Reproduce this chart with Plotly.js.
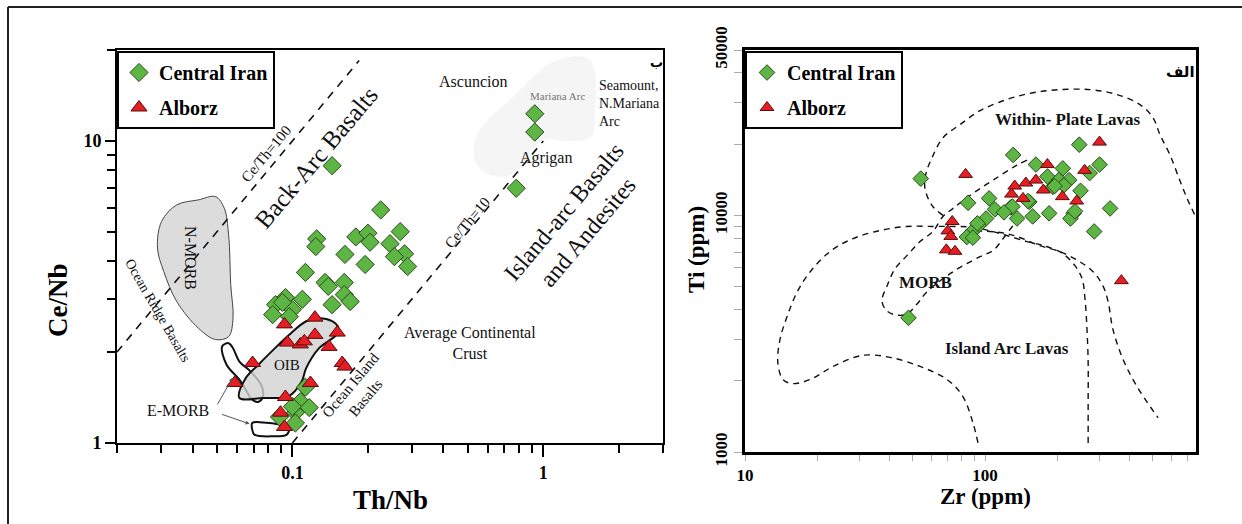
<!DOCTYPE html>
<html><head><meta charset="utf-8">
<script src="https://cdn.plot.ly/plotly-3.0.1.min.js"></script>
<style>html,body{margin:0;padding:0;background:#fff}#chart{width:1242px;height:524px}</style>
</head><body><div id="chart"></div>
<script>
// ===== Left diagram: Ce/Nb vs Th/Nb =====
const ciThNb = [0.144,0.925,0.925,0.78,0.225,0.125,0.124,0.179,0.20,0.204,0.269,0.245,0.280,0.255,0.288,0.162,0.195,0.1127,0.135,0.139,0.161,0.161,0.170,0.144,0.1096,0.0938,0.0857,0.100,0.0834,0.0973,0.0913,0.1127,0.1076,0.1167,0.1028,0.0888,0.1028,0.100];
const ciCeNb = [8.28,12.3,10.7,6.97,5.91,4.74,4.47,4.81,4.95,4.62,5.01,4.57,4.23,4.14,3.84,4.21,3.90,3.67,3.40,3.30,3.40,3.10,2.94,2.87,2.99,3.03,2.87,2.77,2.66,2.62,2.92,1.53,1.37,1.31,1.26,1.22,1.165,1.32];
const alThNb = [0.093,0.123,0.123,0.151,0.0956,0.1076,0.1116,0.140,0.0694,0.158,0.162,0.0589,0.0938,0.093,0.118,0.0897];
const alCeNb = [2.47,2.60,2.28,2.32,2.15,2.12,2.17,2.08,1.84,1.84,1.79,1.58,1.42,1.13,1.58,1.26];

// field outlines (Th/Nb, Ce/Nb)
const nmorbThNb = [0.0494,0.0535,0.0557,0.0568,0.058,0.0557,0.0494,0.0422,0.0346,0.0307,0.029,0.0301,0.0346,0.0422,0.0494];
const nmorbCeNb = [6.54,5.99,4.89,3.34,2.59,2.25,2.20,2.40,2.94,3.70,4.42,5.41,6.14,6.38,6.54];
const oibThNb = [0.0615,0.0764,0.0969,0.109,0.1135,0.1278,0.1497,0.1527,0.144,0.1278,0.1135,0.0969,0.0827,0.0734,0.0652,0.0615];
const oibCeNb = [1.41,1.41,1.43,1.60,1.77,2.06,2.28,2.40,2.53,2.59,2.53,2.28,2.01,1.82,1.64,1.41];
const emorbAThNb = [0.0525,0.0557,0.058,0.0615,0.0679,0.075,0.0764,0.0734,0.0692,0.0652,0.0615,0.0546,0.0525];
const emorbACeNb = [2.09,2.14,2.06,1.86,1.73,1.56,1.43,1.37,1.39,1.50,1.62,1.82,2.09];
const emorbBThNb = [0.0692,0.0764,0.0895,0.0969,0.095,0.0827,0.0706,0.0692,0.0692];
const emorbBCeNb = [1.165,1.17,1.15,1.12,1.066,1.052,1.066,1.107,1.165];
const marianaThNb = [0.532,0.542,0.622,0.746,0.896,1.057,1.29,1.52,1.61,1.61,1.55,1.23,1.03,0.896,0.818,0.713,0.594,0.532];
const marianaCeNb = [8.71,10.4,12.1,13.8,16.1,18.0,19.0,18.7,16.7,12.8,10.3,10.0,10.15,9.40,8.20,7.65,7.77,8.71];
// constant-ratio lines: Ce/Nb = ratio * Th/Nb
const ceTh100Range = [0.02, 0.1845];
const ceTh10Range = [0.1, 1.0];

const leftXTicks = [0.1, 1], leftXTickText = ['0.1', '1'];
const leftXMinor = [0.02,0.03,0.04,0.05,0.06,0.07,0.08,0.09,0.2,0.3,0.4,0.5,0.6,0.7,0.8,0.9,2,3];
const leftYTicks = [1, 10], leftYTickText = ['1', '10'];
const leftYMinor = [2,3,4,5,6,7,8,9,20];

// ===== Right diagram: Ti vs Zr =====
const ciZr = [54,131,247,163,211,300,273,182,203,224,192,213,250,195,104,85,153,110,128,332,136,158,185,234,227,101,94,88,84,89,285,48,130,151,237,93,120];
const ciTi = [14300,18000,19900,16400,15800,16400,15100,14600,14100,14100,13200,13400,12700,13300,11800,11300,11400,10600,10800,10700,9700,9900,10200,10200,9700,9700,9060,8500,8100,8050,8550,3690,10900,11500,10400,9250,10300];
const alZr = [300,83,182,260,133,148,163,129,175,210,241,144,73,70,72,69,75,370];
const alTi = [20400,14900,16400,15500,13300,13700,14100,12300,12800,12000,11500,11800,9420,8600,8150,7150,7050,5300];

const wplZr = [66.8,60.1,56.2,56.8,60.1,66.8,78.7,95.3,123.5,158.5,205,274,355,442,501,536,590,649,695,750];
const wplTi = [10000,11030,13030,15090,17500,21300,24200,27700,30900,33000,34000,34000,32400,29400,25900,21900,18000,14000,11800,10000];
const iabZr = [93.5,89.1,80.9,69.5,53.6,40.2,31.0,23.3,18.7,15.8,14.4,13.7,14.0,15.0,16.5,18.7,22.6,28.2,36.5,47.3,60.7,75.0,90.8,115.5,149.6,181,211,237,254,261,266,269,269,269];
const iabTi = [1092,1328,1714,2025,2300,2512,2562,2300,2025,1946,2025,2392,2997,3753,4750,5777,7030,7980,8630,8980,8980,8980,8890,8380,7750,7380,6890,6130,5390,4430,3304,2392,1617,1071];
const morbZr = [149.6,136,108,89.1,73.6,66.8,60.7,53.6,47.3,42.2,39.1,37.2,39.1,43.0,47.3,52.1,57.3,73.6,95.3,108,119,131,140];
const morbTi = [17140,16320,14090,12400,10710,9900,8550,7750,6760,5950,5037,4350,3940,3790,3830,4220,4750,5780,6690,7100,7980,9060,9710];
const morbEdgeZr = [82.5,115.5,136,169,205,244,282,310,326,341,376,430,526];
const morbEdgeTi = [8630,8470,8140,7450,7030,6440,5777,5037,4305,3304,2463,1890,1396];

const rightXTicks = [10, 100], rightXTickText = ['10', '100'];
const rightXMinor = [20,30,40,50,60,70,80,90,200,300,400,500,600,700];
const rightYTicks = [1000, 10000, 50000], rightYTickText = ['1000', '10000', '50000'];
const rightYMinor = [2000,3000,4000,5000,6000,7000,8000,9000,20000,30000,40000];

// ===== styling =====
const SERIF = 'Liberation Serif';
const W = 1242, H = 524;
const px = v => v / W, py = v => 1 - v / H;
const greenMarker = s => ({symbol:'diamond', size:s, color:'#5db543', line:{color:'#2a4a1c', width:1}});
const redMarker = s => ({symbol:'triangle-up', size:s, color:'#e41e22', line:{color:'#5a0c0c', width:1}});
const dashL = {color:'#111', width:1.6, dash:'8px,7px'};
const dashR = {color:'#111', width:1.4, dash:'6px,5px'};

const traces = [
  {x:marianaThNb, y:marianaCeNb, mode:'lines', fill:'toself', fillcolor:'#f5f5f5', line:{width:0, color:'rgba(0,0,0,0)', shape:'spline'}, showlegend:false, hoverinfo:'skip', xaxis:'x', yaxis:'y'},
  {x:nmorbThNb, y:nmorbCeNb, mode:'lines', fill:'toself', fillcolor:'#dcdcdc', line:{width:1, color:'#444', shape:'spline'}, showlegend:false, hoverinfo:'skip', xaxis:'x', yaxis:'y'},
  {x:emorbAThNb, y:emorbACeNb, mode:'lines', line:{width:2, color:'#111', shape:'spline'}, showlegend:false, hoverinfo:'skip', xaxis:'x', yaxis:'y'},
  {x:oibThNb, y:oibCeNb, mode:'lines', fill:'toself', fillcolor:'rgba(210,210,210,0.8)', line:{width:2, color:'#111', shape:'spline'}, showlegend:false, hoverinfo:'skip', xaxis:'x', yaxis:'y'},
  {x:emorbBThNb, y:emorbBCeNb, mode:'lines', line:{width:2, color:'#111', shape:'spline'}, showlegend:false, hoverinfo:'skip', xaxis:'x', yaxis:'y'},
  {x:ceTh100Range, y:ceTh100Range.map(v => v * 100), mode:'lines', line:dashL, showlegend:false, hoverinfo:'skip', xaxis:'x', yaxis:'y'},
  {x:ceTh10Range, y:ceTh10Range.map(v => v * 10), mode:'lines', line:dashL, showlegend:false, hoverinfo:'skip', xaxis:'x', yaxis:'y'},
  {x:ciThNb, y:ciCeNb, mode:'markers', name:'Central Iran', marker:greenMarker(14), legend:'legend', legendgroup:'a', xaxis:'x', yaxis:'y'},
  {x:alThNb, y:alCeNb, mode:'markers', name:'Alborz', marker:redMarker(14), legend:'legend', legendgroup:'b', xaxis:'x', yaxis:'y'},

  {x:wplZr, y:wplTi, mode:'lines', line:Object.assign({shape:'spline'}, dashR), showlegend:false, hoverinfo:'skip', xaxis:'x2', yaxis:'y2'},
  {x:iabZr, y:iabTi, mode:'lines', line:Object.assign({shape:'spline'}, dashR), showlegend:false, hoverinfo:'skip', xaxis:'x2', yaxis:'y2'},
  {x:morbZr, y:morbTi, mode:'lines', line:Object.assign({shape:'spline'}, dashR), showlegend:false, hoverinfo:'skip', xaxis:'x2', yaxis:'y2'},
  {x:morbEdgeZr, y:morbEdgeTi, mode:'lines', line:Object.assign({shape:'spline'}, dashR), showlegend:false, hoverinfo:'skip', xaxis:'x2', yaxis:'y2'},
  {x:ciZr, y:ciTi, mode:'markers', name:'Central Iran', marker:greenMarker(12), legend:'legend2', legendgroup:'c', xaxis:'x2', yaxis:'y2'},
  {x:alZr, y:alTi, mode:'markers', name:'Alborz', marker:redMarker(12), legend:'legend2', legendgroup:'d', xaxis:'x2', yaxis:'y2'}
];

const tickFont = {family:SERIF, size:18, color:'#000', weight:'bold'};
const tickFontR = {family:SERIF, size:17, color:'#000', weight:'bold'};

function ann(text, x, y, size, opts) {
  return Object.assign({text:text, x:px(x), y:py(y), xref:'paper', yref:'paper', showarrow:false,
    xanchor:'center', yanchor:'middle', font:{family:SERIF, size:size, color:'#111'}}, opts || {});
}
const bold = (s, c) => ({family:SERIF, size:s, color:c || '#000', weight:'bold'});

const annotations = [
  ann('Ce/Nb', 58, 300, 27, {textangle:-90, font:bold(27)}),
  ann('Th/Nb', 390, 500, 27, {font:bold(27)}),
  ann('Ce/Th=100', 266, 154, 15, {textangle:-50}),
  ann('Back-Arc Basalts', 316, 157, 25, {textangle:-50}),
  ann('N-MORB', 191, 258, 16, {textangle:90}),
  ann('Ocean Ridge Basalts', 158, 310, 14, {textangle:60}),
  ann('OIB', 287, 365, 15),
  ann('E-MORB', 178, 410, 16),
  ann('Ocean Island<br>Basalts', 358, 392, 15, {textangle:-50}),
  ann('Average Continental<br>Crust', 470, 343, 16),
  ann('Ce/Th=10', 467, 223, 15, {textangle:-50}),
  ann('Island-arc Basalts<br>and Andesites', 575, 222, 24, {textangle:-50}),
  ann('Ascuncion', 473, 82, 16),
  ann('Mariana Arc', 557, 96, 11, {font:{family:SERIF, size:11, color:'#777'}}),
  ann('Seamount,<br>N.Mariana<br>Arc', 597, 103, 14, {xanchor:'left', align:'left'}),
  ann('Agrigan', 546, 158, 16),
  ann('ب', 656, 53, 13, {yanchor:'top', font:{family:'DejaVu Sans', size:13, color:'#000', weight:'bold'}}),
  {text:'', xref:'x', yref:'y', x:Math.log10(0.0578), y:Math.log10(1.644), showarrow:true, ax:-16, ay:28, arrowhead:2, arrowsize:0.8, arrowwidth:1, arrowcolor:'#555'},
  {text:'', xref:'x', yref:'y', x:Math.log10(0.0675), y:Math.log10(1.157), showarrow:true, ax:-29, ay:-10, arrowhead:2, arrowsize:0.8, arrowwidth:1, arrowcolor:'#555'},

  ann('Ti (ppm)', 696, 250, 23, {textangle:-90, font:bold(23)}),
  ann('Zr (ppm)', 985, 496, 23, {font:bold(23)}),
  ann('Within- Plate Lavas', 1068, 120, 17, {font:bold(17, '#111')}),
  ann('MORB', 925, 282, 17, {font:bold(17, '#111')}),
  ann('Island Arc Lavas', 1007, 348, 17, {font:bold(17, '#111')}),
  ann('الف', 1180, 72, 15, {font:{family:'DejaVu Sans', size:15, color:'#000', weight:'bold'}})
];

const legendCommon = {xanchor:'left', yanchor:'top', bgcolor:'#fff', bordercolor:'#000', borderwidth:2,
  font:{family:SERIF, size:20, color:'#000', weight:'bold'}, traceorder:'grouped', tracegroupgap:6};

const layout = {
  width:W, height:H, margin:{l:0, r:0, t:0, b:0}, paper_bgcolor:'#fff', plot_bgcolor:'rgba(0,0,0,0)',
  showlegend:true, hovermode:false,
  xaxis:{type:'log', domain:[px(117), px(663)], range:[Math.log10(0.02), Math.log10(3)], anchor:'y',
    tickmode:'array', tickvals:leftXTicks, ticktext:leftXTickText, ticks:'outside', ticklen:12, tickwidth:2, tickcolor:'#000',
    minor:{tickmode:'array', tickvals:leftXMinor, ticks:'outside', ticklen:8, tickwidth:2, tickcolor:'#000', showgrid:false},
    showline:true, linewidth:2, linecolor:'#000', mirror:true, showgrid:false, zeroline:false, tickfont:tickFont},
  yaxis:{type:'log', domain:[py(443), py(50)], range:[0, Math.log10(20)], anchor:'x',
    tickmode:'array', tickvals:leftYTicks, ticktext:leftYTickText, ticks:'outside', ticklen:10, tickwidth:2, tickcolor:'#000',
    minor:{tickmode:'array', tickvals:leftYMinor, ticks:'outside', ticklen:8, tickwidth:2, tickcolor:'#000', showgrid:false},
    showline:true, linewidth:2, linecolor:'#000', mirror:true, showgrid:false, zeroline:false, tickfont:tickFont},
  xaxis2:{type:'log', domain:[px(745), px(1196)], range:[1, Math.log10(757)], anchor:'y2',
    tickmode:'array', tickvals:rightXTicks, ticktext:rightXTickText, ticks:'outside', ticklen:6, tickwidth:1, tickcolor:'#aaa',
    minor:{tickmode:'array', tickvals:rightXMinor, ticks:'outside', ticklen:6, tickwidth:1, tickcolor:'#aaa', showgrid:false},
    showline:true, linewidth:3, linecolor:'#000', mirror:true, showgrid:false, zeroline:false, tickfont:tickFontR},
  yaxis2:{type:'log', domain:[py(452), py(50)], range:[3, Math.log10(50000)], anchor:'x2',
    tickmode:'array', tickvals:rightYTicks, ticktext:rightYTickText, tickangle:-90, ticks:'outside', ticklen:8, tickwidth:1, tickcolor:'#aaa',
    minor:{tickmode:'array', tickvals:rightYMinor, ticks:'outside', ticklen:8, tickwidth:1, tickcolor:'#aaa', showgrid:false},
    showline:true, linewidth:3, linecolor:'#000', mirror:true, showgrid:false, zeroline:false, tickfont:tickFontR},
  legend:Object.assign({x:px(117), y:py(51)}, legendCommon),
  legend2:Object.assign({x:px(745), y:py(51)}, legendCommon),
  annotations:annotations,
  shapes:[
    {type:'line', xref:'paper', yref:'paper', x0:px(8), x1:1, y0:py(7), y1:py(7), line:{color:'#222', width:2}},
    {type:'line', xref:'paper', yref:'paper', x0:px(8), x1:px(8), y0:py(7), y1:0, line:{color:'#222', width:2}}
  ]
};

Plotly.newPlot('chart', traces, layout, {displayModeBar:false, staticPlot:true});
</script></body></html>
